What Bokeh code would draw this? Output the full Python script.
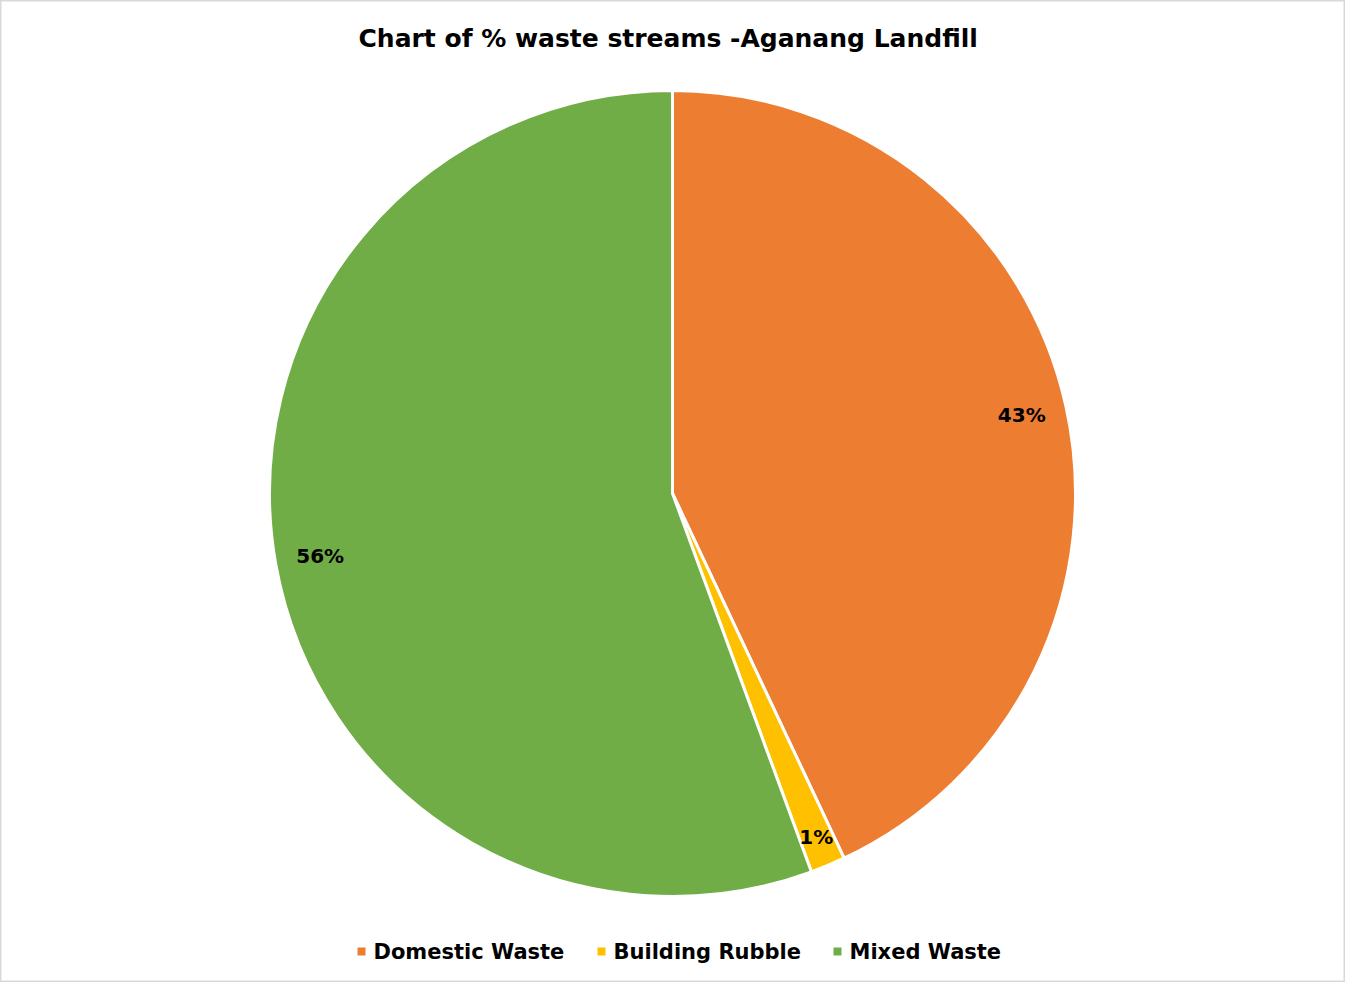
import math
from bokeh.plotting import figure
from bokeh.models import Range1d, ColumnDataSource
from bokeh.core.properties import value
from bokeh.embed import file_html
from bokeh.resources import INLINE

categories = ["Domestic Waste", "Building Rubble", "Mixed Waste"]
shares = [43.0, 1.4, 55.6]
colors = ["#ED7D31", "#FFC000", "#70AD47"]
title_text = "Chart of %  waste streams -Aganang Landfill"

W, H = 1345, 982
FONT = "DejaVu Sans"
cx, cy, R = 672, H - 493, 403
label_r = [0.888, 0.925, 0.888]
legend_sq_x = [361, 601, 837]
legend_y = H - 951

p = figure(width=W, height=H, output_backend="svg", toolbar_location=None,
           x_range=Range1d(0, W), y_range=Range1d(0, H), min_border=0)
p.axis.visible = False
p.grid.visible = False
p.outline_line_color = "#D9D9D9"
p.outline_line_width = 2
p.background_fill_color = "white"
p.border_fill_color = "white"

total = sum(shares)
starts, ends, lx, ly, labels = [], [], [], [], []
cum = 0.0
for i, s in enumerate(shares):
    a0 = math.pi / 2 - 2 * math.pi * cum / total
    cum += s
    a1 = math.pi / 2 - 2 * math.pi * cum / total
    starts.append(a0)
    ends.append(a1)
    mid = (a0 + a1) / 2
    lx.append(cx + R * label_r[i] * math.cos(mid))
    ly.append(cy + R * label_r[i] * math.sin(mid))
    labels.append(f"{round(s / total * 100):.0f}%")

src = ColumnDataSource(dict(start=starts, end=ends, color=colors, cat=categories,
                            lx=lx, ly=ly, label=labels,
                            x=[cx] * 3, y=[cy] * 3))
p.wedge(x="x", y="y", radius=R, start_angle="start", end_angle="end",
        direction="clock", fill_color="color", line_color="white", line_width=3,
        source=src)
p.text(x="lx", y="ly", text="label", source=src, text_align="center",
       text_baseline="middle", text_font=value(FONT), text_font_style="bold",
       text_font_size="20px", text_color="#000000")

p.text(x=[cx], y=[H - 38], text=[title_text], text_align="center",
       text_baseline="middle", text_font=value(FONT), text_font_style="bold",
       text_font_size="25px", text_color="#000000")

leg = ColumnDataSource(dict(sx=legend_sq_x, tx=[x + 12 for x in legend_sq_x],
                            y=[legend_y] * 3, color=colors, cat=categories))
p.rect(x="sx", y="y", width=8, height=8, fill_color="color", line_color=None,
       source=leg)
p.text(x="tx", y="y", text="cat", source=leg, text_align="left",
       text_baseline="middle", text_font=value(FONT), text_font_style="bold",
       text_font_size="21px", text_color="#000000")

open("out.html", "w").write(file_html(p, INLINE))
